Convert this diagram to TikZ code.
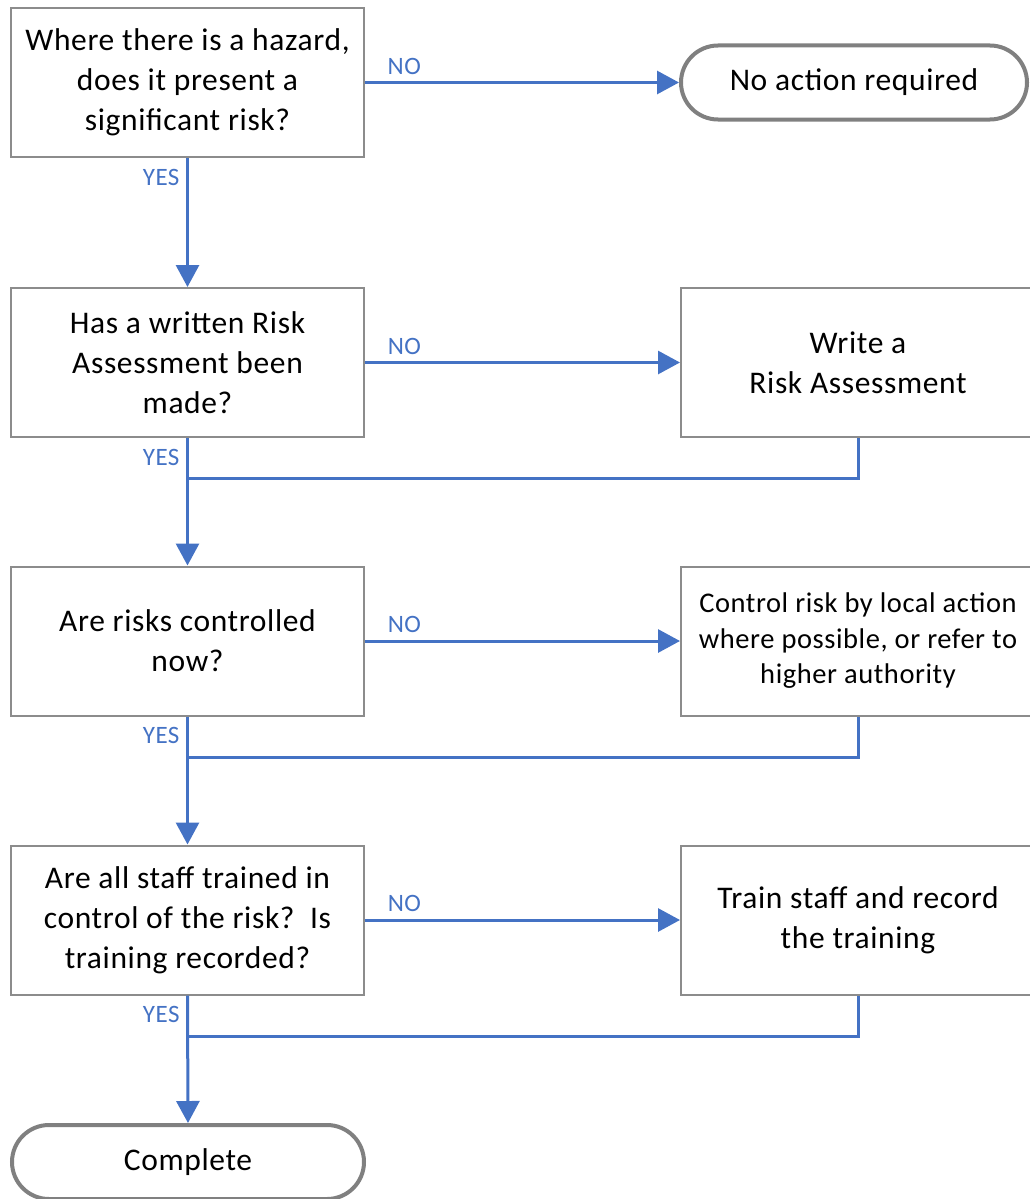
\documentclass[tikz,border=0pt]{standalone}
\usepackage{fontspec}
\setmainfont[LetterSpace=2]{Carlito}
\usetikzlibrary{arrows.meta,positioning}
\definecolor{flowblue}{RGB}{68,114,196}
\definecolor{boxgray}{RGB}{140,140,140}
\definecolor{endgray}{RGB}{128,128,128}

\begin{document}
\begin{tikzpicture}[x=1pt, y=-1pt, >={Triangle[length=22pt,width=23pt]}]
                \useasboundingbox (0,0) rectangle (1029,1199);

                \tikzset{
                    question/.style = {draw=boxgray, line width=2pt, minimum width=353pt, minimum height=149pt,
                            align=center, inner sep=0pt, font=\fontsize{31.5}{40}\selectfont,
                            execute at begin node={\rule{0pt}{31.5pt}}},
                    action/.style = {question, minimum width=354pt},
                    terminal/.style = {draw=endgray, line width=4pt, rounded corners=37pt, minimum height=74pt,
                            inner sep=0pt, font=\fontsize{31.5}{40}\selectfont},
                    flow/.style = {->, draw=flowblue, line width=3pt},
                    back/.style = {draw=flowblue, line width=3pt},
                    answer/.style = {text=flowblue, inner sep=6.5pt, font=\fontsize{25}{30}\selectfont},
                }

                \node[question] (hazard) at (187.5,82.5) {Where there is a hazard,\\does it present a\\significant risk?};
                \node[terminal, minimum width=346pt] (noaction) at (854,82.5) {No action required};

                \node[question] (written) at (187.5,362.5) {Has a written Risk\\Assessment been\\made?};
                \node[action] (write) at (858,362.5) {Write a\\Risk Assessment};

                \node[question] (controlled) at (187.5,641) {Are risks controlled\\now?};
                \node[action, font=\fontsize{28.5}{35.5}\selectfont] (control) at (858,641)
                {Control risk by local action\\where possible, or refer to\\higher authority};

                \node[question] (trained) at (187.5,920) {Are all staff trained in\\control of the risk?~~Is\\training recorded?};
                \node[action] (train) at (858,920) {Train staff and record\\the training};

                \node[terminal, minimum width=352pt] (complete) at (188,1162) {Complete};

                \coordinate (join1) at (187.5,478);
                \coordinate (join2) at (187.5,757);
                \coordinate (join3) at (187.5,1036);

                \draw[flow] (hazard.east) -- node[answer, above, pos=0.125] (no1) {NO} (noaction.west);
                \draw[flow] (hazard.south) -- node[answer, left, pos=0.15] (yes1) {YES} (written.north);

                \draw[flow] (written.east) -- node[answer, above, pos=0.125] (no2) {NO} (write.west);
                \draw[back] (write.south) |- (join1);
                \draw[flow] (written.south) -- node[answer, left, pos=0.15] (yes2) {YES} (controlled.north);

                \draw[flow] (controlled.east) -- node[answer, above, pos=0.125] (no3) {NO} (control.west);
                \draw[back] (control.south) |- (join2);
                \draw[flow] (controlled.south) -- node[answer, left, pos=0.15] (yes3) {YES} (trained.north);

                \draw[flow] (trained.east) -- node[answer, above, pos=0.125] (no4) {NO} (train.west);
                \draw[back] (train.south) |- (join3);
                \draw[flow] (trained.south) -- node[answer, left, pos=0.15] (yes4) {YES} (complete.north);

            \end{tikzpicture}
\end{document}
